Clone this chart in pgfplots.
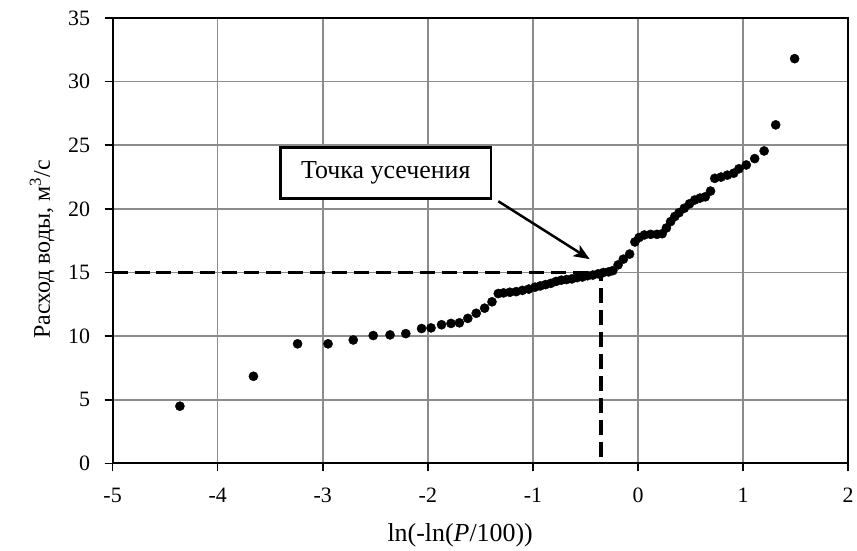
\documentclass[border=0pt]{standalone}
\usepackage{fontspec}
\setmainfont{Liberation Serif}
\usepackage{pgfplots}
\pgfplotsset{compat=1.18}
\usetikzlibrary{arrows.meta}
\begin{document}
\begin{tikzpicture}
\path (-113pt,-85pt) rectangle (744pt,465pt);
\begin{axis}[
  at={(0,0)}, anchor=south west,
  scale only axis, width=738pt, height=447pt,
  xmin=-5, xmax=2, ymin=0, ymax=35,
  xtick={-5,-4,-3,-2,-1,0,1,2}, xticklabels={-5,-4,-3,-2,-1,0,1,2},
  ytick={0,5,10,15,20,25,30,35}, yticklabels={0,5,10,15,20,25,30,35},
  grid=major, major grid style={color=black!45, line width=1.5pt},
  axis line style={black, line width=2pt},
  tick style={black, line width=1.5pt}, tick align=outside, major tick length=8pt,
  xtick pos=bottom, ytick pos=left,
  ticklabel style={font=\fontsize{22}{25}\selectfont},
  xticklabel style={yshift=-13pt},
  yticklabel style={xshift=-11pt},
  xlabel={ln(-ln(\textit{P}/100))},
  ylabel={Расход воды, м\textsuperscript{3}/с},
  xlabel style={font=\fontsize{26}{30}\selectfont, at={(axis description cs:0.4725,-0.176)}, anchor=base},
  ylabel style={font=\fontsize{24}{28}\selectfont, at={(axis description cs:-0.0854,0.48)}, anchor=base, rotate=0},
  clip=false,
]
\addplot[black, line width=3.5pt, dash pattern=on 15pt off 7pt] coordinates {(-5,15) (-0.352,15) (-0.352,0)};
\addplot[only marks, mark=*, mark size=4.6pt, black] coordinates {
(-4.36,4.5) (-3.66,6.85) (-3.24,9.4) (-2.95,9.4) (-2.71,9.7) (-2.52,10.05)
(-2.36,10.1) (-2.21,10.2) (-2.06,10.6) (-1.97,10.65) (-1.87,10.9) (-1.78,11.0)
(-1.70,11.05) (-1.62,11.4) (-1.54,11.8) (-1.46,12.2) (-1.39,12.7) (-1.33,13.35)
(-1.28,13.4) (-1.22,13.45) (-1.16,13.5) (-1.10,13.6) (-1.04,13.7) (-0.98,13.85)
(-0.93,13.95) (-0.88,14.05) (-0.83,14.15) (-0.78,14.3) (-0.73,14.4) (-0.68,14.45)
(-0.63,14.5) (-0.58,14.6) (-0.53,14.65) (-0.48,14.75) (-0.43,14.8) (-0.38,14.9)
(-0.33,15.0) (-0.28,15.05) (-0.24,15.15) (-0.19,15.6) (-0.14,16.05) (-0.08,16.45)
(-0.03,17.4) (0.01,17.75) (0.06,17.95) (0.12,18.0) (0.18,18.0) (0.23,18.05)
(0.27,18.5) (0.31,19.0) (0.35,19.4) (0.39,19.7) (0.44,20.05) (0.49,20.4)
(0.54,20.7) (0.59,20.85) (0.64,20.95) (0.69,21.4) (0.73,22.4) (0.79,22.5)
(0.85,22.65) (0.91,22.8) (0.96,23.15) (1.03,23.45) (1.11,23.95) (1.20,24.55)
(1.31,26.6) (1.49,31.8)
};
\node[draw=black, line width=3pt, fill=white, minimum width=211pt, minimum height=51pt, inner sep=0pt, font=\fontsize{26}{30}\selectfont] at (axis cs:-2.40,22.80) {Точка усечения};
\draw[black, line width=2.5pt, -{Stealth[length=16pt,width=13pt,inset=4pt]}] (axis cs:-1.33,20.6) -- (axis cs:-0.46,16.05);
\end{axis}
\end{tikzpicture}
\end{document}
